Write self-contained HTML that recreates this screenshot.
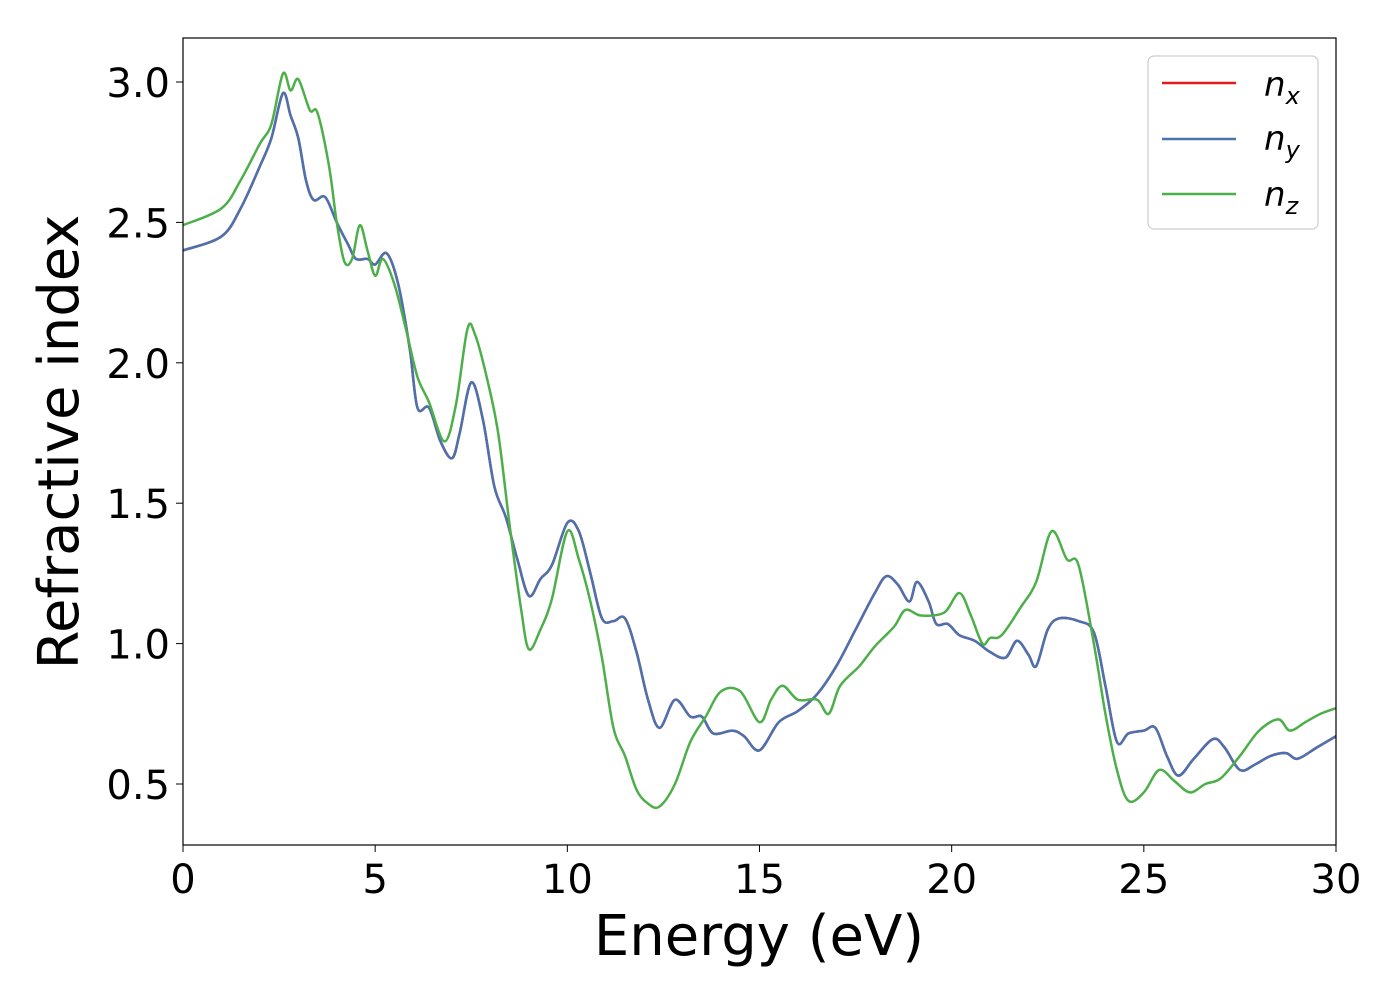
<!DOCTYPE html>
<html><head><meta charset="utf-8"><style>
body{margin:0;background:#fff;}
svg text{font-family:"DejaVu Sans","Liberation Sans",sans-serif;}
</style></head><body>
<svg id="chart" width="1400" height="1000" viewBox="0 0 1400 1000">
<rect x="0" y="0" width="1400" height="1000" fill="#fff"/>
<g id="lines"></g>
<rect x="183" y="38" width="1153" height="807" fill="none" stroke="#000" stroke-width="1.2"/>
<g id="xticks"></g><g id="yticks"></g>
<text x="759" y="955" font-size="56" text-anchor="middle">Energy (eV)</text>
<text transform="translate(78,442) rotate(-90)" font-size="56" text-anchor="middle">Refractive index</text>
<g>
<rect x="1148" y="56" width="170" height="173" rx="6" fill="#fff" stroke="#ccc" stroke-width="1.2"/>
<line x1="1162" y1="83" x2="1236" y2="83" stroke="#e41a1c" stroke-width="2.5"/>
<text x="1264" y="96" font-size="34" font-style="italic">n<tspan font-size="24" dy="8">x</tspan></text>
<line x1="1162" y1="139" x2="1236" y2="139" stroke="#4a72b0" stroke-width="2.5"/>
<text x="1264" y="150" font-size="34" font-style="italic">n<tspan font-size="24" dy="8">y</tspan></text>
<line x1="1162" y1="194" x2="1236" y2="194" stroke="#4daf4a" stroke-width="2.5"/>
<text x="1264" y="206" font-size="34" font-style="italic">n<tspan font-size="24" dy="8">z</tspan></text>
</g>
</svg>
<script>
const xTicks=[0,5,10,15,20,25,30];
const yTicks=[0.5,1.0,1.5,2.0,2.5,3.0];
const yTickLabels=["0.5","1.0","1.5","2.0","2.5","3.0"];
const energyXY=[0,1,1.5,2,2.3,2.6,2.8,3,3.2,3.4,3.7,4,4.3,4.5,4.8,5,5.3,5.6,5.9,6.1,6.4,6.7,7,7.2,7.5,7.8,8.1,8.4,8.7,9,9.3,9.6,10,10.3,10.6,10.9,11.2,11.5,11.8,12.1,12.4,12.8,13.2,13.5,13.8,14.3,14.6,15,15.5,16,16.5,17,17.5,18,18.3,18.6,18.9,19.1,19.4,19.6,19.9,20.2,20.6,21,21.4,21.7,22,22.2,22.5,22.8,23.3,23.7,24,24.3,24.6,25,25.3,25.6,25.9,26.3,26.8,27.1,27.5,27.9,28.3,28.7,29,29.5,30];
const nX=[2.40,2.45,2.55,2.70,2.80,2.96,2.88,2.80,2.65,2.58,2.59,2.50,2.42,2.37,2.37,2.35,2.39,2.28,2.05,1.84,1.84,1.72,1.66,1.75,1.93,1.80,1.56,1.45,1.30,1.17,1.23,1.28,1.43,1.40,1.25,1.09,1.08,1.09,0.97,0.80,0.70,0.80,0.74,0.74,0.68,0.69,0.67,0.62,0.72,0.76,0.82,0.92,1.05,1.18,1.24,1.21,1.15,1.22,1.15,1.07,1.07,1.03,1.01,0.97,0.95,1.01,0.96,0.92,1.05,1.09,1.08,1.04,0.85,0.65,0.68,0.69,0.70,0.60,0.53,0.59,0.66,0.63,0.55,0.57,0.60,0.61,0.59,0.63,0.67];
const nY=nX.slice();
const energyZ=[0,1,1.5,2,2.3,2.6,2.8,3,3.3,3.5,3.8,4,4.2,4.4,4.6,4.8,5,5.2,5.5,5.8,6.1,6.4,6.8,7.1,7.4,7.6,7.9,8.2,8.5,8.8,9,9.3,9.6,10,10.3,10.6,10.9,11.2,11.5,11.8,12.1,12.4,12.8,13.2,13.6,14,14.5,15,15.3,15.6,16,16.5,16.8,17.1,17.6,18,18.5,18.8,19.2,19.8,20.2,20.5,20.8,21,21.3,21.8,22.2,22.6,23,23.3,23.7,24,24.3,24.6,25,25.4,25.8,26.2,26.6,27,27.5,28,28.5,28.8,29.2,29.6,30];
const nZ=[2.49,2.55,2.65,2.78,2.85,3.03,2.97,3.01,2.90,2.89,2.70,2.50,2.36,2.37,2.49,2.40,2.31,2.37,2.28,2.12,1.95,1.86,1.72,1.85,2.12,2.10,1.95,1.75,1.42,1.12,0.98,1.05,1.16,1.40,1.30,1.15,0.95,0.70,0.60,0.48,0.43,0.42,0.50,0.65,0.74,0.83,0.83,0.72,0.80,0.85,0.80,0.80,0.75,0.85,0.92,0.99,1.06,1.12,1.10,1.11,1.18,1.10,1.00,1.02,1.03,1.13,1.22,1.40,1.30,1.28,1.00,0.75,0.55,0.44,0.47,0.55,0.51,0.47,0.50,0.52,0.60,0.69,0.73,0.69,0.72,0.75,0.77];
const X0=183,X1=1336,Y0=845,Y1=38;
const xScale=v=>X0+(v-0)/(30-0)*(X1-X0);
const yScale=v=>784+(v-0.5)*(82-784)/2.5;
const NS="http://www.w3.org/2000/svg";
function smoothPath(xs,ys){
  const p=xs.map((x,i)=>[xScale(x),yScale(ys[i])]);
  let d=`M${p[0][0]},${p[0][1]}`;
  for(let i=0;i<p.length-1;i++){
    const a=p[Math.max(i-1,0)],b=p[i],c=p[i+1],e=p[Math.min(i+2,p.length-1)];
    const c1=[b[0]+(c[0]-a[0])/6,b[1]+(c[1]-a[1])/6],c2=[c[0]-(e[0]-b[0])/6,c[1]-(e[1]-b[1])/6];
    d+=`C${c1[0]},${c1[1]} ${c2[0]},${c2[1]} ${c[0]},${c[1]}`;
  }
  return d;
}
const lines=document.getElementById('lines');
[[energyXY,nX,'#e41a1c','series-nx'],[energyXY,nY,'#4a72b0','series-ny'],[energyZ,nZ,'#4daf4a','series-nz']].forEach(s=>{
  const p=document.createElementNS(NS,'path');
  p.setAttribute('d',smoothPath(s[0],s[1]));
  p.setAttribute('fill','none');p.setAttribute('stroke',s[2]);p.setAttribute('stroke-width','2.5');
  
  
  lines.appendChild(p);
});
const xt=document.getElementById('xticks');
xTicks.forEach(v=>{
  const l=document.createElementNS(NS,'line');
  l.setAttribute('x1',xScale(v));l.setAttribute('x2',xScale(v));l.setAttribute('y1',845);l.setAttribute('y2',852);l.setAttribute('stroke','#000');
  
  
  xt.appendChild(l);
  const t=document.createElementNS(NS,'text');
  t.setAttribute('x',xScale(v));t.setAttribute('y',893);t.setAttribute('font-size','40');t.setAttribute('text-anchor','middle');
  t.textContent=v;
  
  
  xt.appendChild(t);
});
const yt=document.getElementById('yticks');
yTicks.forEach((v,i)=>{
  const l=document.createElementNS(NS,'line');
  l.setAttribute('x1',176);l.setAttribute('x2',183);l.setAttribute('y1',yScale(v));l.setAttribute('y2',yScale(v));l.setAttribute('stroke','#000');
  
  
  yt.appendChild(l);
  const t=document.createElementNS(NS,'text');
  t.setAttribute('x',170);t.setAttribute('y',yScale(v)+15);t.setAttribute('font-size','40');t.setAttribute('text-anchor','end');
  t.textContent=yTickLabels[i];
  
  
  yt.appendChild(t);
});
</script>
</body></html>
